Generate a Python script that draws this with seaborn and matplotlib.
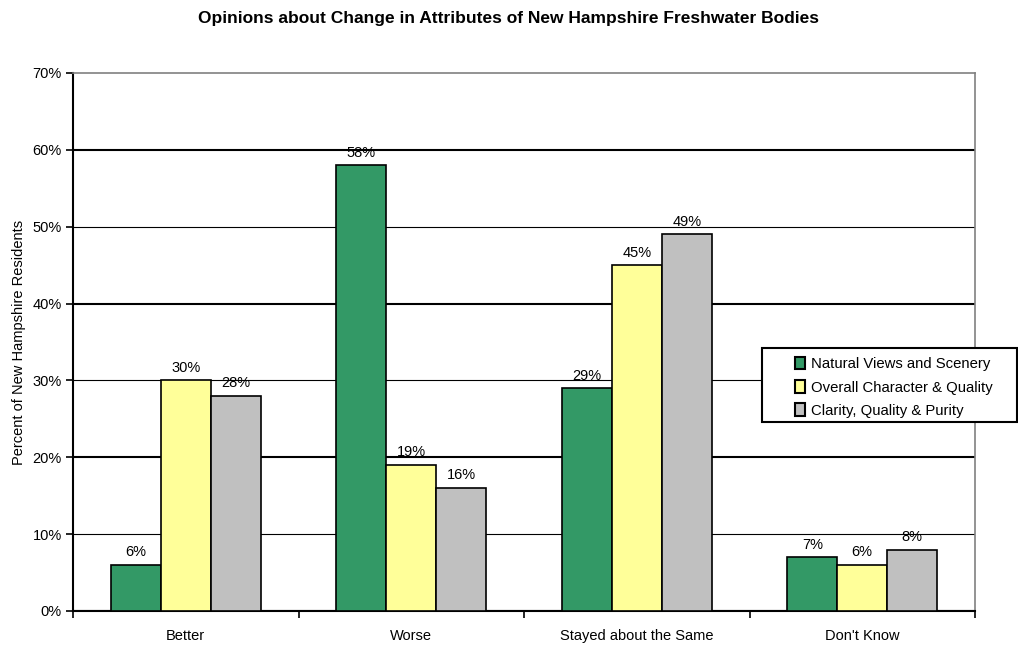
import numpy as np
import pandas as pd
import matplotlib
matplotlib.use("Agg")
import matplotlib.pyplot as plt
from matplotlib.patches import Rectangle
import seaborn as sns

categories = ["Better", "Worse", "Stayed about the Same", "Don't Know"]
series = ["Natural Views and Scenery", "Overall Character & Quality", "Clarity, Quality & Purity"]
natural = [6, 58, 29, 7]
overall = [30, 19, 45, 6]
clarity = [28, 16, 49, 8]
colors = ["#339966", "#FFFF99", "#C0C0C0"]

rows = []
for s, vals in zip(series, [natural, overall, clarity]):
    for c, v in zip(categories, vals):
        rows.append({"cat": c, "series": s, "val": v})
data = pd.DataFrame(rows)

sns.set_style("white", {"xtick.bottom": True, "ytick.left": True,
                        "text.color": "black", "axes.labelcolor": "black",
                        "xtick.color": "black", "ytick.color": "black"})
plt.rcParams["font.family"] = ["Liberation Sans", "DejaVu Sans"]

fig = plt.figure(figsize=(10.18, 6.49), dpi=100)
ax = fig.add_axes([73 / 1018, 1 - 611 / 649, (975 - 73) / 1018, (611 - 73) / 649])

sns.barplot(data=data, x="cat", y="val", hue="series", order=categories,
            hue_order=series, palette=colors, width=0.665, saturation=1,
            edgecolor="black", linewidth=1.2, ax=ax, zorder=3)

for cont in ax.containers:
    ax.bar_label(cont, labels=[f"{int(round(v))}%" for v in cont.datavalues],
                 padding=4, fontsize=10.5, color="black")

fs = 10.5
ax.set_ylim(0, 70)
ax.set_xlim(-0.5, 3.5)
ax.set_yticks(np.arange(0, 71, 10))
ax.set_yticklabels([f"{t}%" for t in range(0, 71, 10)], fontsize=fs)
ax.set_xticks(range(4))
ax.set_xticklabels(categories, fontsize=fs)
ax.set_xticks([-0.5, 0.5, 1.5, 2.5, 3.5], minor=True)
ax.tick_params(axis="x", which="major", length=0, pad=13, colors="black")
ax.tick_params(axis="x", which="minor", bottom=True, length=5, width=1.2,
               direction="out", color="black")
ax.tick_params(axis="y", left=True, length=5, width=1.2, direction="out",
               color="black", labelcolor="black", pad=3)
ax.set_xlabel("")
ax.set_ylabel("Percent of New Hampshire Residents", fontsize=fs, labelpad=5, color="black")

ax.yaxis.grid(True, color="black", zorder=0)
for i, gl in enumerate(ax.get_ygridlines()):
    gl.set_linewidth(1.5 if i % 2 == 0 else 0.8)
    if i == 7:
        gl.set_visible(False)

for sp in ["left", "bottom"]:
    ax.spines[sp].set_color("black")
    ax.spines[sp].set_linewidth(1.5)
for sp in ["top", "right"]:
    ax.spines[sp].set_color("#808080")
    ax.spines[sp].set_linewidth(1.2)

# legend frame (Excel style, wide box running to the figure edge)
ax.add_patch(Rectangle((762 / 1018, 1 - 422 / 649), (1017 - 762) / 1018, 74 / 649,
                       transform=fig.transFigure, facecolor="white", clip_on=False,
                       edgecolor="black", linewidth=1.5, zorder=5))
leg = ax.legend(loc="upper left", bbox_to_anchor=(795 / 1018, 1 - 357 / 649),
                bbox_transform=fig.transFigure, frameon=False,
                fontsize=10.7, handlelength=0.7, handleheight=0.9, handletextpad=0.35,
                borderaxespad=0, labelspacing=0.6, borderpad=0)
leg.set_zorder(6)
for h in leg.legend_handles:
    h.set_edgecolor("black")
    h.set_linewidth(1.5)

fig.suptitle("Opinions about Change in Attributes of New Hampshire Freshwater Bodies",
             fontsize=12.5, fontweight="bold", y=1 - 18 / 649, va="center", color="black")

fig.savefig("out.png", dpi=100)
